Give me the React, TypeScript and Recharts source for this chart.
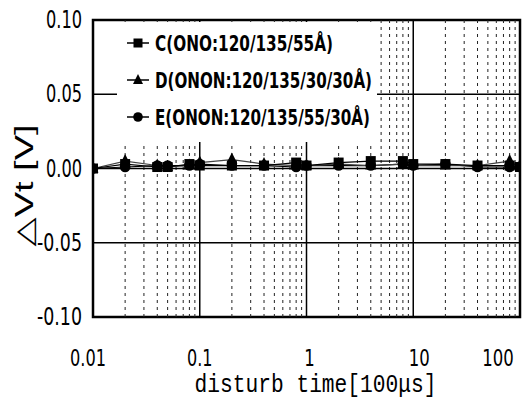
import {
  Legend,
  Line,
  LineChart,
  ReferenceArea,
  ReferenceLine,
  XAxis,
  YAxis,
} from "recharts";

// disturb time [100us] and delta Vt [V] per sample
const times = [0.01, 0.02, 0.04, 0.05, 0.08, 0.1, 0.2, 0.4, 0.8, 1, 2, 4, 8, 10, 20, 40, 80, 100];
const seriesC = [0, 0.003, 0.001, 0.001, 0.003, 0.002, 0.002, 0.002, 0.004, 0.002, 0.004, 0.005, 0.005, 0.003, 0.003, 0.002, 0.002, 0.001];
const seriesD = [0, 0.005, 0.002, 0.001, 0.002, 0.004, 0.006, 0.003, 0.002, 0.002, 0.003, 0.002, 0.003, 0.002, 0.002, 0.002, 0.005, 0.002];
const seriesE = [0, 0.001, 0.002, 0.002, 0.002, 0.003, 0.002, 0.002, 0.001, 0.002, 0.002, 0.002, 0.003, 0.002, 0.003, 0.001, 0.001, 0.001];

const xTicks = [0.01, 0.1, 1, 10, 100];
const yTicks = [-0.1, -0.05, 0, 0.05, 0.1];
const decades = [0.1, 1, 10];
const minorLines = [0.01, 0.1, 1, 10].flatMap((d) => [2, 3, 4, 5, 6, 7, 8, 9].map((m) => +(d * m).toPrecision(3)));
const hLines = [0.05, 0, -0.05];

const legendNames = ["C(ONO:120/135/55Å)", "D(ONON:120/135/30/30Å)", "E(ONON:120/135/55/30Å)"];

const data = times.map((t, i) => ({ t, c: seriesC[i], d: seriesD[i], e: seriesE[i] }));

const narrow = "'Liberation Sans Narrow', 'DejaVu Sans Condensed', 'Liberation Sans', sans-serif";

// rough advance widths so the tall narrow look holds whatever font is found
const labelWidth = (s: string) =>
  s.split("").reduce((w, ch) => w + (ch === "." ? 4.5 : ch === "-" ? 9 : 10.5), 0);

const xNudge: Record<string, number> = { "0.01": -5, "1": 3, "10": 6, "100": -22 };

const XTick = (props: any) => {
  const { x, y, payload } = props;
  const s = String(payload.value);
  return (
    <text
      x={x + (xNudge[s] ?? 0)}
      y={y + 49}
      textAnchor="middle"
      fontFamily={narrow}
      fontSize={23}
      fill="#000"
      textLength={labelWidth(s)}
      lengthAdjust="spacingAndGlyphs"
    >
      {s}
    </text>
  );
};

const YTick = (props: any) => {
  const { x, y, payload } = props;
  const s = payload.value.toFixed(2);
  return (
    <text
      x={x}
      y={y + 8}
      textAnchor="end"
      fontFamily={narrow}
      fontSize={24}
      fill="#000"
      textLength={labelWidth(s)}
      lengthAdjust="spacingAndGlyphs"
    >
      {s}
    </text>
  );
};

const Square = (p: any) => <rect key={p.key} x={p.cx - 5} y={p.cy - 5} width={10} height={10} fill="#000" />;
const Triangle = (p: any) => (
  <polygon key={p.key} points={`${p.cx},${p.cy - 7} ${p.cx - 5.5},${p.cy + 4} ${p.cx + 5.5},${p.cy + 4}`} fill="#000" />
);
const Circle = (p: any) => <circle key={p.key} cx={p.cx} cy={p.cy} r={5.3} fill="#000" />;

const markers = [
  (cx: number, cy: number) => <rect x={cx - 4.5} y={cy - 4.5} width={9} height={9} fill="#000" />,
  (cx: number, cy: number) => <polygon points={`${cx},${cy - 6} ${cx - 5},${cy + 4} ${cx + 5},${cy + 4}`} fill="#000" />,
  (cx: number, cy: number) => <circle cx={cx} cy={cy} r={4.8} fill="#000" />,
];
const legendWidths = [178, 217, 215];

const LegendBox = () => (
  <svg width={260} height={120} style={{ overflow: "visible" }}>
    <rect x={0} y={0} width={260} height={120} fill="#fff" />
    {legendNames.map((name, i) => {
      const cy = 21 + i * 37;
      return (
        <g key={name}>
          <line x1={10} x2={32} y1={cy} y2={cy} stroke="#000" strokeWidth={1.5} />
          {markers[i](21, cy)}
          <text
            x={38}
            y={cy + 8}
            fontFamily={narrow}
            fontWeight="bold"
            fontSize={21}
            fill="#000"
            textLength={legendWidths[i]}
            lengthAdjust="spacingAndGlyphs"
          >
            {name}
          </text>
        </g>
      );
    })}
  </svg>
);

const XLabel = (props: any) => {
  const { viewBox } = props;
  return (
    <text
      x={viewBox.x + viewBox.width / 2 + 9}
      y={viewBox.y + 75}
      textAnchor="middle"
      fontFamily="'Liberation Mono', 'DejaVu Sans Mono', monospace"
      fontSize={25}
      fill="#000"
      textLength={242}
      lengthAdjust="spacingAndGlyphs"
    >
      disturb time[100μs]
    </text>
  );
};

const YLabel = (props: any) => {
  const { viewBox } = props;
  const cx = 24;
  const cy = viewBox.y + viewBox.height / 2 + 17;
  return (
    <text
      x={cx}
      y={cy}
      transform={`rotate(-90 ${cx} ${cy})`}
      textAnchor="middle"
      dominantBaseline="central"
      fontFamily="'Liberation Sans', 'DejaVu Sans', sans-serif"
      fontSize={25}
      fill="#000"
      textLength={122}
      lengthAdjust="spacingAndGlyphs"
    >
      △Vt [V]
    </text>
  );
};

export default function App() {
  return (
    <div style={{ position: "absolute", left: 0, top: 0, background: "#fff" }}>
      <LineChart width={525} height={400} data={data} margin={{ top: 20, right: 5, bottom: 43, left: 33 }}>
        <XAxis
          dataKey="t"
          type="number"
          scale="log"
          domain={[0.01, 100]}
          allowDataOverflow
          ticks={xTicks}
          height={40}
          axisLine={false}
          tickLine={false}
          tickSize={0}
          tickMargin={0}
          tick={<XTick />}
          interval={0}
          label={<XLabel />}
        />
        <YAxis
          type="number"
          domain={[-0.1, 0.1]}
          allowDataOverflow
          ticks={yTicks}
          width={60}
          axisLine={false}
          tickLine={false}
          tickSize={0}
          tickMargin={11}
          tick={<YTick />}
          interval={0}
          label={<YLabel />}
        />
        {minorLines
          .filter((v) => v < 100)
          .map((v) => (
            <ReferenceLine key={`m${v}`} x={v} stroke="#222" strokeWidth={1} strokeDasharray="3 4" />
          ))}
        {decades.map((v) => (
          <ReferenceLine key={`d${v}`} x={v} stroke="#000" strokeWidth={1.5} />
        ))}
        {hLines.map((v) => (
          <ReferenceLine key={`h${v}`} y={v} stroke="#000" strokeWidth={1.5} />
        ))}
        <ReferenceArea x1={0.01} x2={100} y1={-0.1} y2={0.1} fill="none" fillOpacity={0} stroke="#000" strokeWidth={2.5} />
        <Line dataKey="e" type="linear" stroke="#000" strokeWidth={1.2} dot={Circle} isAnimationActive={false} />
        <Line dataKey="d" type="linear" stroke="#444" strokeWidth={1.2} dot={Triangle} isAnimationActive={false} />
        <Line dataKey="c" type="linear" stroke="#000" strokeWidth={1.2} dot={Square} isAnimationActive={false} />
        <Legend
          layout="vertical"
          align="center"
          verticalAlign="middle"
          content={<LegendBox />}
          wrapperStyle={{ left: 117, top: 22, width: 260, height: 120 }}
        />
      </LineChart>
    </div>
  );
}
